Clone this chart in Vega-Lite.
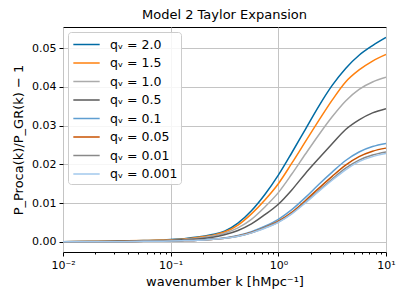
{
  "$schema": "https://vega.github.io/schema/vega-lite/v6.json",
  "autosize": {"type": "none"},
  "width": 323,
  "height": 225,
  "padding": {"left": 63, "top": 27, "right": 21, "bottom": 53},
  "config": {
    "font": "DejaVu Sans",
    "view": {"stroke": "#000000", "strokeWidth": 1},
    "axis": {"domain": false, "labelFontSize": 11, "titleFontSize": 13, "titleFontWeight": "normal", "labelColor": "#000", "titleColor": "#000", "tickColor": "#000", "gridColor": "#c4c4c4", "gridWidth": 1}
  },
  "title": {"text": "Model 2 Taylor Expansion", "fontSize": 13, "fontWeight": "normal", "offset": 5, "color": "#000"},
  "data": {"values": [
    {"q":"qᵥ = 2.0","k":0.01,"r":0.0},{"q":"qᵥ = 2.0","k":0.01778,"r":0.0001},{"q":"qᵥ = 2.0","k":0.03162,"r":0.0002},{"q":"qᵥ = 2.0","k":0.05623,"r":0.0003},{"q":"qᵥ = 2.0","k":0.1,"r":0.0006},{"q":"qᵥ = 2.0","k":0.1334,"r":0.0008},{"q":"qᵥ = 2.0","k":0.1778,"r":0.0012},{"q":"qᵥ = 2.0","k":0.2371,"r":0.0018},{"q":"qᵥ = 2.0","k":0.3162,"r":0.0027},{"q":"qᵥ = 2.0","k":0.4217,"r":0.0048},{"q":"qᵥ = 2.0","k":0.5623,"r":0.008},{"q":"qᵥ = 2.0","k":0.7499,"r":0.0122},{"q":"qᵥ = 2.0","k":1.0,"r":0.0172},{"q":"qᵥ = 2.0","k":1.334,"r":0.023},{"q":"qᵥ = 2.0","k":1.778,"r":0.029},{"q":"qᵥ = 2.0","k":2.371,"r":0.035},{"q":"qᵥ = 2.0","k":3.162,"r":0.0404},{"q":"qᵥ = 2.0","k":4.217,"r":0.0448},{"q":"qᵥ = 2.0","k":5.623,"r":0.0482},{"q":"qᵥ = 2.0","k":7.499,"r":0.0507},{"q":"qᵥ = 2.0","k":10.0,"r":0.0528},
    {"q":"qᵥ = 1.5","k":0.01,"r":0.0},{"q":"qᵥ = 1.5","k":0.01778,"r":0.0001},{"q":"qᵥ = 1.5","k":0.03162,"r":0.0002},{"q":"qᵥ = 1.5","k":0.05623,"r":0.0003},{"q":"qᵥ = 1.5","k":0.1,"r":0.0005},{"q":"qᵥ = 1.5","k":0.1334,"r":0.0007},{"q":"qᵥ = 1.5","k":0.1778,"r":0.0011},{"q":"qᵥ = 1.5","k":0.2371,"r":0.0016},{"q":"qᵥ = 1.5","k":0.3162,"r":0.0025},{"q":"qᵥ = 1.5","k":0.4217,"r":0.0043},{"q":"qᵥ = 1.5","k":0.5623,"r":0.0072},{"q":"qᵥ = 1.5","k":0.7499,"r":0.0108},{"q":"qᵥ = 1.5","k":1.0,"r":0.015},{"q":"qᵥ = 1.5","k":1.334,"r":0.0203},{"q":"qᵥ = 1.5","k":1.778,"r":0.0258},{"q":"qᵥ = 1.5","k":2.371,"r":0.0313},{"q":"qᵥ = 1.5","k":3.162,"r":0.0366},{"q":"qᵥ = 1.5","k":4.217,"r":0.0413},{"q":"qᵥ = 1.5","k":5.623,"r":0.0444},{"q":"qᵥ = 1.5","k":7.499,"r":0.0467},{"q":"qᵥ = 1.5","k":10.0,"r":0.0484},
    {"q":"qᵥ = 1.0","k":0.01,"r":0.0},{"q":"qᵥ = 1.0","k":0.01778,"r":0.0001},{"q":"qᵥ = 1.0","k":0.03162,"r":0.0001},{"q":"qᵥ = 1.0","k":0.05623,"r":0.0002},{"q":"qᵥ = 1.0","k":0.1,"r":0.0004},{"q":"qᵥ = 1.0","k":0.1334,"r":0.0006},{"q":"qᵥ = 1.0","k":0.1778,"r":0.0009},{"q":"qᵥ = 1.0","k":0.2371,"r":0.0014},{"q":"qᵥ = 1.0","k":0.3162,"r":0.0022},{"q":"qᵥ = 1.0","k":0.4217,"r":0.0036},{"q":"qᵥ = 1.0","k":0.5623,"r":0.0058},{"q":"qᵥ = 1.0","k":0.7499,"r":0.009},{"q":"qᵥ = 1.0","k":1.0,"r":0.0127},{"q":"qᵥ = 1.0","k":1.334,"r":0.0175},{"q":"qᵥ = 1.0","k":1.778,"r":0.0226},{"q":"qᵥ = 1.0","k":2.371,"r":0.0276},{"q":"qᵥ = 1.0","k":3.162,"r":0.0323},{"q":"qᵥ = 1.0","k":4.217,"r":0.0364},{"q":"qᵥ = 1.0","k":5.623,"r":0.0394},{"q":"qᵥ = 1.0","k":7.499,"r":0.0413},{"q":"qᵥ = 1.0","k":10.0,"r":0.0425},
    {"q":"qᵥ = 0.5","k":0.01,"r":0.0},{"q":"qᵥ = 0.5","k":0.01778,"r":0.0},{"q":"qᵥ = 0.5","k":0.03162,"r":0.0001},{"q":"qᵥ = 0.5","k":0.05623,"r":0.0002},{"q":"qᵥ = 0.5","k":0.1,"r":0.0003},{"q":"qᵥ = 0.5","k":0.1334,"r":0.0005},{"q":"qᵥ = 0.5","k":0.1778,"r":0.0007},{"q":"qᵥ = 0.5","k":0.2371,"r":0.0011},{"q":"qᵥ = 0.5","k":0.3162,"r":0.0018},{"q":"qᵥ = 0.5","k":0.4217,"r":0.0029},{"q":"qᵥ = 0.5","k":0.5623,"r":0.0046},{"q":"qᵥ = 0.5","k":0.7499,"r":0.007},{"q":"qᵥ = 0.5","k":1.0,"r":0.0097},{"q":"qᵥ = 0.5","k":1.334,"r":0.0134},{"q":"qᵥ = 0.5","k":1.778,"r":0.0176},{"q":"qᵥ = 0.5","k":2.371,"r":0.0215},{"q":"qᵥ = 0.5","k":3.162,"r":0.0253},{"q":"qᵥ = 0.5","k":4.217,"r":0.029},{"q":"qᵥ = 0.5","k":5.623,"r":0.0315},{"q":"qᵥ = 0.5","k":7.499,"r":0.0333},{"q":"qᵥ = 0.5","k":10.0,"r":0.0344},
    {"q":"qᵥ = 0.1","k":0.01,"r":0.0},{"q":"qᵥ = 0.1","k":0.01778,"r":0.0},{"q":"qᵥ = 0.1","k":0.03162,"r":0.0},{"q":"qᵥ = 0.1","k":0.05623,"r":0.0001},{"q":"qᵥ = 0.1","k":0.1,"r":0.0002},{"q":"qᵥ = 0.1","k":0.1334,"r":0.0003},{"q":"qᵥ = 0.1","k":0.1778,"r":0.0004},{"q":"qᵥ = 0.1","k":0.2371,"r":0.0007},{"q":"qᵥ = 0.1","k":0.3162,"r":0.001},{"q":"qᵥ = 0.1","k":0.4217,"r":0.0016},{"q":"qᵥ = 0.1","k":0.5623,"r":0.0026},{"q":"qᵥ = 0.1","k":0.7499,"r":0.004},{"q":"qᵥ = 0.1","k":1.0,"r":0.0058},{"q":"qᵥ = 0.1","k":1.334,"r":0.0083},{"q":"qᵥ = 0.1","k":1.778,"r":0.0114},{"q":"qᵥ = 0.1","k":2.371,"r":0.0148},{"q":"qᵥ = 0.1","k":3.162,"r":0.018},{"q":"qᵥ = 0.1","k":4.217,"r":0.021},{"q":"qᵥ = 0.1","k":5.623,"r":0.0232},{"q":"qᵥ = 0.1","k":7.499,"r":0.0246},{"q":"qᵥ = 0.1","k":10.0,"r":0.0254},
    {"q":"qᵥ = 0.05","k":0.01,"r":0.0},{"q":"qᵥ = 0.05","k":0.01778,"r":0.0},{"q":"qᵥ = 0.05","k":0.03162,"r":0.0},{"q":"qᵥ = 0.05","k":0.05623,"r":0.0001},{"q":"qᵥ = 0.05","k":0.1,"r":0.0002},{"q":"qᵥ = 0.05","k":0.1334,"r":0.0003},{"q":"qᵥ = 0.05","k":0.1778,"r":0.0004},{"q":"qᵥ = 0.05","k":0.2371,"r":0.0006},{"q":"qᵥ = 0.05","k":0.3162,"r":0.0009},{"q":"qᵥ = 0.05","k":0.4217,"r":0.0015},{"q":"qᵥ = 0.05","k":0.5623,"r":0.0024},{"q":"qᵥ = 0.05","k":0.7499,"r":0.0037},{"q":"qᵥ = 0.05","k":1.0,"r":0.0053},{"q":"qᵥ = 0.05","k":1.334,"r":0.0076},{"q":"qᵥ = 0.05","k":1.778,"r":0.0106},{"q":"qᵥ = 0.05","k":2.371,"r":0.0138},{"q":"qᵥ = 0.05","k":3.162,"r":0.0169},{"q":"qᵥ = 0.05","k":4.217,"r":0.0198},{"q":"qᵥ = 0.05","k":5.623,"r":0.022},{"q":"qᵥ = 0.05","k":7.499,"r":0.0234},{"q":"qᵥ = 0.05","k":10.0,"r":0.0242},
    {"q":"qᵥ = 0.01","k":0.01,"r":0.0},{"q":"qᵥ = 0.01","k":0.01778,"r":0.0},{"q":"qᵥ = 0.01","k":0.03162,"r":0.0},{"q":"qᵥ = 0.01","k":0.05623,"r":0.0001},{"q":"qᵥ = 0.01","k":0.1,"r":0.0002},{"q":"qᵥ = 0.01","k":0.1334,"r":0.0003},{"q":"qᵥ = 0.01","k":0.1778,"r":0.0004},{"q":"qᵥ = 0.01","k":0.2371,"r":0.0006},{"q":"qᵥ = 0.01","k":0.3162,"r":0.0009},{"q":"qᵥ = 0.01","k":0.4217,"r":0.0014},{"q":"qᵥ = 0.01","k":0.5623,"r":0.0023},{"q":"qᵥ = 0.01","k":0.7499,"r":0.0036},{"q":"qᵥ = 0.01","k":1.0,"r":0.0051},{"q":"qᵥ = 0.01","k":1.334,"r":0.0073},{"q":"qᵥ = 0.01","k":1.778,"r":0.0102},{"q":"qᵥ = 0.01","k":2.371,"r":0.0132},{"q":"qᵥ = 0.01","k":3.162,"r":0.0162},{"q":"qᵥ = 0.01","k":4.217,"r":0.019},{"q":"qᵥ = 0.01","k":5.623,"r":0.0211},{"q":"qᵥ = 0.01","k":7.499,"r":0.0224},{"q":"qᵥ = 0.01","k":10.0,"r":0.0232},
    {"q":"qᵥ = 0.001","k":0.01,"r":0.0},{"q":"qᵥ = 0.001","k":0.01778,"r":0.0},{"q":"qᵥ = 0.001","k":0.03162,"r":0.0},{"q":"qᵥ = 0.001","k":0.05623,"r":0.0001},{"q":"qᵥ = 0.001","k":0.1,"r":0.0002},{"q":"qᵥ = 0.001","k":0.1334,"r":0.0003},{"q":"qᵥ = 0.001","k":0.1778,"r":0.0004},{"q":"qᵥ = 0.001","k":0.2371,"r":0.0006},{"q":"qᵥ = 0.001","k":0.3162,"r":0.0009},{"q":"qᵥ = 0.001","k":0.4217,"r":0.0014},{"q":"qᵥ = 0.001","k":0.5623,"r":0.0023},{"q":"qᵥ = 0.001","k":0.7499,"r":0.0035},{"q":"qᵥ = 0.001","k":1.0,"r":0.005},{"q":"qᵥ = 0.001","k":1.334,"r":0.0072},{"q":"qᵥ = 0.001","k":1.778,"r":0.01},{"q":"qᵥ = 0.001","k":2.371,"r":0.013},{"q":"qᵥ = 0.001","k":3.162,"r":0.0159},{"q":"qᵥ = 0.001","k":4.217,"r":0.0186},{"q":"qᵥ = 0.001","k":5.623,"r":0.0207},{"q":"qᵥ = 0.001","k":7.499,"r":0.022},{"q":"qᵥ = 0.001","k":10.0,"r":0.0228}
  ]},
  "mark": {"type": "line", "strokeWidth": 1.5, "interpolate": "monotone", "clip": true},
  "encoding": {
    "x": {"field": "k", "type": "quantitative",
      "scale": {"type": "log", "domain": [0.01, 10], "nice": false},
      "axis": {"title": "wavenumber k [hMpc⁻¹]", "titlePadding": 5,
        "values": [0.01,0.02,0.03,0.04,0.05,0.06,0.07,0.08,0.09,0.1,0.2,0.3,0.4,0.5,0.6,0.7,0.8,0.9,1,2,3,4,5,6,7,8,9,10],
        "labelExpr": "abs(log(datum.value)/LN10 - round(log(datum.value)/LN10)) < 0.001 ? (round(log(datum.value)/LN10) == -2 ? '10⁻²' : round(log(datum.value)/LN10) == -1 ? '10⁻¹' : round(log(datum.value)/LN10) == 0 ? '10⁰' : '10¹') : ''",
        "tickSize": {"condition": {"test": "abs(log(datum.value)/LN10 - round(log(datum.value)/LN10)) < 0.001", "value": 4}, "value": 2},
        "gridOpacity": {"condition": {"test": "abs(log(datum.value)/LN10 - round(log(datum.value)/LN10)) < 0.001", "value": 1}, "value": 0},
        "labelPadding": 3, "labelFlush": false, "labelOverlap": false}},
    "y": {"field": "r", "type": "quantitative",
      "scale": {"domain": [-0.00265, 0.0555], "nice": false, "zero": false},
      "axis": {"title": "P_Proca(k)/P_GR(k) − 1", "values": [0, 0.01, 0.02, 0.03, 0.04, 0.05], "format": ".2f", "tickSize": 4, "labelPadding": 3, "titlePadding": 6}},
    "color": {"field": "q", "type": "nominal", "sort": null,
      "scale": {"domain": ["qᵥ = 2.0","qᵥ = 1.5","qᵥ = 1.0","qᵥ = 0.5","qᵥ = 0.1","qᵥ = 0.05","qᵥ = 0.01","qᵥ = 0.001"],
        "range": ["#006BA4","#FF800E","#ABABAB","#595959","#5F9ED1","#C85200","#898989","#A2C8EC"]},
      "legend": {"title": null, "orient": "top-left", "offset": 5, "padding": 3, "fillColor": "rgba(255,255,255,0.85)", "strokeColor": "#cccccc", "cornerRadius": 3,
        "symbolType": "M-1.55,0H1.55", "symbolSize": 289, "symbolStrokeWidth": 1.5, "symbolOffset": 6, "labelFontSize": 12.5, "labelColor": "#000", "rowPadding": 2.5, "labelOffset": 14}}
  }
}
